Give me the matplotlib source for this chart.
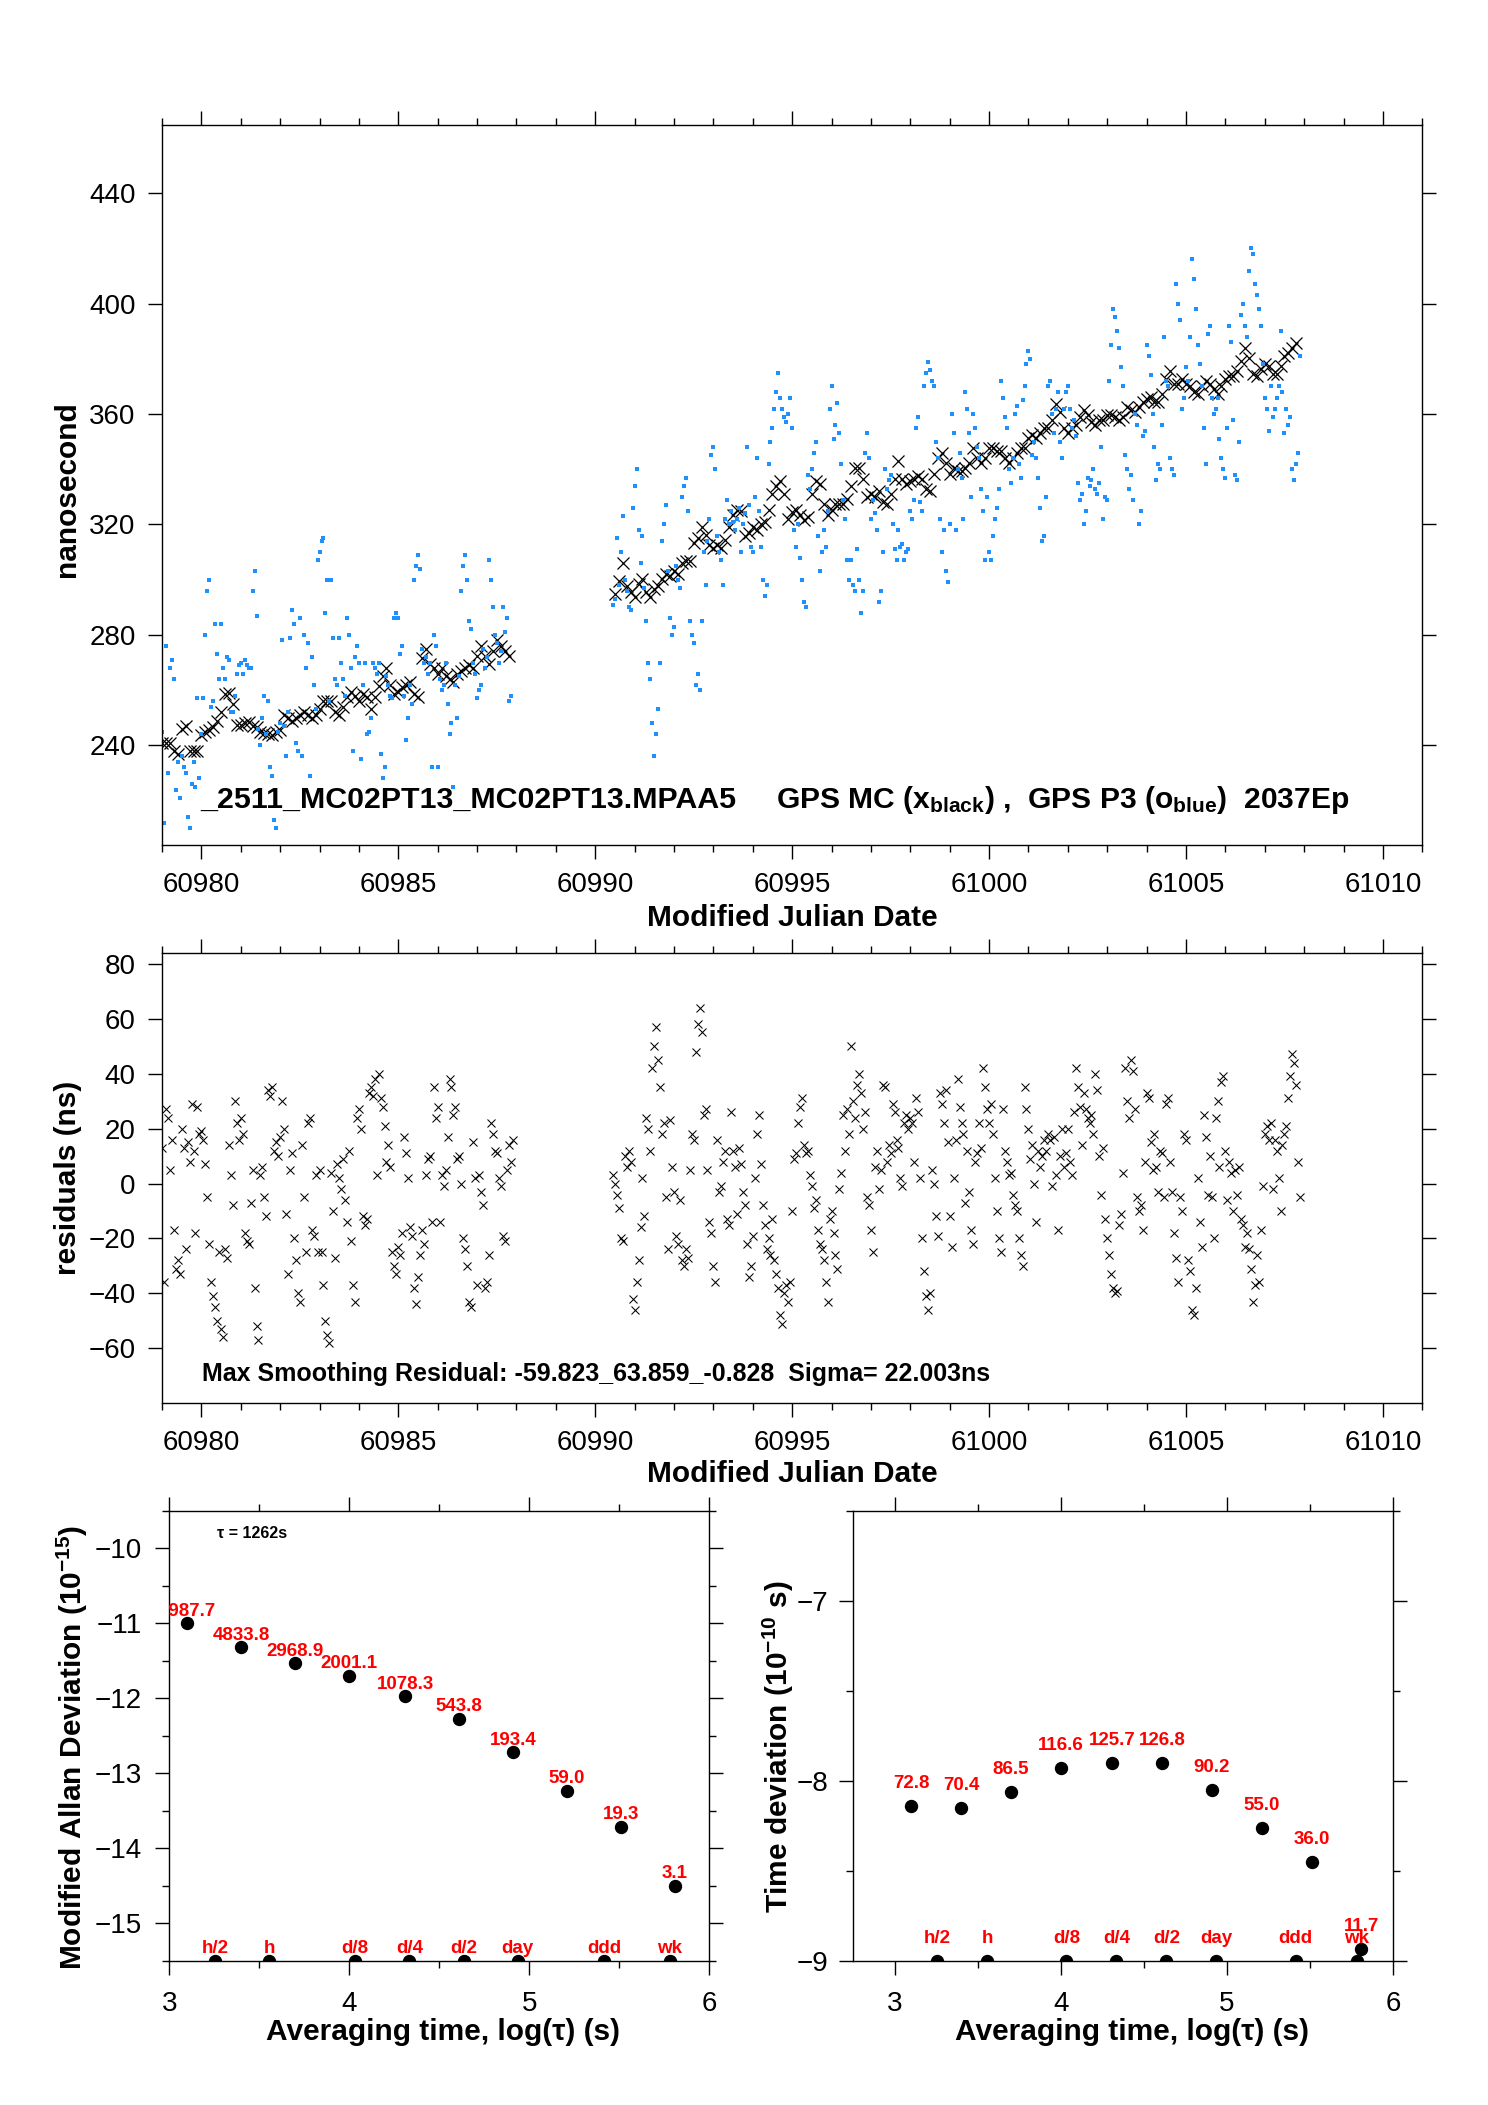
import numpy as np
import matplotlib
matplotlib.use('Agg')
import matplotlib.pyplot as plt
from matplotlib.ticker import MultipleLocator, FixedLocator

plt.rcParams['font.family'] = ['Liberation Sans', 'DejaVu Sans']
plt.rcParams['mathtext.fontset'] = 'custom'
plt.rcParams['mathtext.rm'] = 'Liberation Sans:bold'
plt.rcParams['mathtext.bf'] = 'Liberation Sans:bold'
plt.rcParams['mathtext.it'] = 'Liberation Sans:bold'
plt.rcParams['axes.unicode_minus'] = True

# ---------------- data: top panel ----------------
mjd_span_mc = [(60979.0, 60987.8), (60990.5, 61007.8)]
mjd_span_p3 = [(60979.0, 60987.85), (60990.45, 61007.90)]
mjd_span_res = [(60979.0, 60987.90), (60990.45, 61007.90)]

mc_seg1 = [241, 241, 241, 238, 237, 246, 247, 238, 238, 238,
           243.7, 245, 245.6, 246.5, 249, 252, 258.6, 259, 255, 247.5,
           247.5, 248, 248.4, 247, 246.5, 245, 244.6, 244, 243.7, 245,
           245.6, 251, 250, 249, 249.9, 251, 252, 251, 250, 251,
           253, 256, 256, 256, 252, 251, 254, 257.6, 259.5, 258,
           256, 258.6, 257.6, 253, 257.6, 261.4, 265, 267.9, 262, 258.6,
           259.5, 261, 262, 263, 258.6, 257.6, 271.5, 275, 269.6, 267.9,
           266, 267.9, 265, 264, 263, 266, 267, 267.9, 269, 267.9,
           272.5, 276, 272.5, 269.6, 274, 278, 276, 274, 272.5]

mc_seg2 = [294.8, 299.4, 306, 297.6, 295.7,
           293.9, 298.5, 300.4, 295.7, 293.9, 296.6, 297.6, 300.4, 302.2, 301.3,
           303.1, 302.2, 306, 306.9, 306.9, 313.4, 315.2, 319, 316.1, 312.4,
           311.5, 312.4, 311.5, 314.3, 319, 323.6, 325.4, 325, 316, 317,
           319, 318, 320, 320.8, 325.4, 331, 333.8, 335.6, 331, 322,
           324.5, 325.4, 323.6, 321.7, 322.6, 331, 335.6, 334.7, 327.3, 323.6,
           325.4, 327.3, 327.3, 327.3, 329.1, 333.8, 340.3, 340.3, 336.6, 330,
           331, 330, 332, 328.2, 327.3, 331, 336.6, 343, 336.6, 334.7,
           335.6, 336.6, 337.5, 336.6, 332.9, 332, 338.4, 344, 345.8, 342.1,
           338.4, 340.3, 339.4, 339.4, 340.3, 342.1, 347.7, 344, 342.1, 344,
           347.7, 347.7, 346.8, 346.8, 344, 342.1, 344, 345.8, 347.7, 347.7,
           351.4, 352.3, 351.4, 353.3, 355.1, 355.1, 357.9, 363.5, 360.7, 355.1,
           353.3, 355.1, 356, 358.8, 361.6, 359.8, 357, 356.1, 357.9, 357.9,
           359.8, 359.8, 358.8, 357.9, 358.8, 362.6, 361.6, 360.7, 362.6, 364.4,
           365.3, 366.3, 364.4, 364.4, 367.2, 372.8, 375.6, 370.9, 370.9, 372.8,
           370.9, 370, 368.1, 367.2, 370, 371.8, 370.9, 369, 367.2, 370,
           372.8, 373.7, 373.7, 375.6, 379.3, 383.9, 380.2, 374.6, 373.7, 376.5,
           378.3, 377.4, 374.6, 374.6, 377.4, 381.1, 382.1, 383.9, 385.8]

p3_seg1 = [245, 212, 276, 230, 268, 271, 264, 224, 234, 221,
           236, 232, 230, 214, 210, 226, 234, 225, 257, 228,
           244, 257, 280, 296, 300, 254, 256, 284, 273, 264,
           284, 268, 264, 272, 271, 252, 252, 258, 266, 269,
           270, 266, 271, 269, 268, 268, 296, 303, 287, 246,
           240, 250, 258, 244, 256, 232, 229, 213, 210, 245,
           248, 278, 247, 236, 252, 279, 289, 284, 241, 238,
           286, 236, 280, 268, 277, 229, 272, 262, 253, 307,
           310, 314, 315, 288, 300, 256, 300, 279, 264, 262,
           279, 270, 264, 258, 286, 280, 268, 238, 272, 276,
           270, 235, 262, 270, 244, 245, 250, 270, 268, 266,
           270, 237, 228, 232, 265, 262, 258, 257, 286, 288,
           286, 273, 276, 258, 242, 250, 262, 255, 300, 305,
           309, 304, 275, 270, 272, 266, 270, 232, 280, 276,
           232, 264, 260, 262, 270, 255, 244, 248, 225, 262,
           250, 265, 296, 305, 309, 300, 285, 282, 270, 266,
           257, 260, 262, 275, 268, 272, 307, 300, 290, 280,
           277, 270, 274, 290, 281, 286, 256, 258]

p3_seg2 = [291, 293, 315, 298, 310, 323, 300, 296, 290, 289,
           326, 334, 340, 318, 306, 316, 297, 285, 270, 264,
           248, 236, 244, 253, 270, 314, 320, 327, 303, 286,
           280, 283, 305, 300, 297, 330, 334, 337, 325, 285,
           280, 277, 262, 266, 260, 285, 310, 298, 314, 322,
           345, 348, 340, 316, 310, 307, 298, 322, 329, 320,
           325, 321, 318, 322, 326, 310, 320, 324, 348, 327,
           312, 310, 330, 344, 325, 312, 300, 294, 298, 342,
           350, 355, 362, 368, 375, 366, 362, 359, 357, 360,
           366, 355, 318, 312, 320, 308, 300, 292, 290, 338,
           333, 340, 346, 350, 316, 303, 310, 318, 312, 325,
           362, 370, 351, 356, 364, 353, 342, 329, 322, 307,
           300, 307, 298, 296, 311, 300, 288, 296, 346, 353,
           344, 322, 329, 324, 318, 292, 296, 310, 340, 333,
           336, 338, 320, 311, 307, 318, 312, 313, 307, 310,
           311, 325, 322, 329, 355, 359, 328, 325, 370, 375,
           379, 376, 372, 370, 350, 344, 322, 310, 318, 303,
           299, 320, 360, 353, 318, 340, 346, 337, 322, 368,
           362, 353, 330, 360, 355, 348, 344, 333, 325, 307,
           330, 310, 307, 316, 322, 326, 333, 372, 366, 359,
           355, 340, 335, 344, 360, 363, 342, 337, 365, 370,
           378, 383, 380, 345, 350, 344, 337, 326, 314, 316,
           330, 370, 372, 360, 353, 362, 368, 350, 344, 362,
           368, 370, 362, 355, 358, 352, 335, 329, 331, 320,
           325, 337, 334, 336, 340, 333, 331, 335, 348, 322,
           330, 329, 372, 385, 398, 395, 390, 384, 377, 370,
           345, 340, 333, 338, 329, 360, 356, 320, 325, 352,
           354, 385, 381, 374, 360, 348, 336, 342, 340, 356,
           388, 372, 370, 344, 340, 338, 407, 400, 394, 362,
           366, 377, 372, 388, 416, 409, 398, 385, 378, 370,
           355, 342, 389, 392, 366, 360, 362, 366, 351, 344,
           340, 337, 355, 392, 386, 358, 338, 336, 350, 396,
           400, 392, 388, 412, 420, 418, 407, 403, 398, 392,
           378, 366, 362, 354, 370, 359, 362, 366, 370, 390,
           368, 353, 362, 356, 359, 340, 336, 342, 346, 381]

# ---------------- data: residual panel ----------------
res_seg1 = [13, -36, 27, 24, 5, 16, -17, -31, -28, -33,
            20, 13, -24, 15, 8, 29, 12, -18, 28, 18,
            19, 16, 7, -5, -22, -36, -41, -45, -50, -25,
            -53, -56, -24, -27, 14, 3, -8, 30, 22, 16,
            24, 18, -18, -21, -22, -7, 5, -38, -52, -57,
            3, 6, -5, -12, 34, 32, 35, 12, 15, 10,
            17, 30, 20, -11, -33, 5, 11, -20, -28, -40,
            -43, 14, -5, -25, 22, 24, -17, -19, 3, -25,
            5, -25, -37, -50, -55, -58, 4, -10, -27, 7,
            2, -2, 9, -6, -14, 12, -21, -37, -43, 24,
            27, 20, -12, -15, -13, 33, 35, 32, 38, 3,
            40, 31, 28, 21, 8, 14, 6, -25, -30, -33,
            -23, -26, -18, 17, 11, 2, -16, -19, -38, -44,
            -34, -26, -17, -22, 3, 9, 10, -14, 35, 24,
            28, -14, 3, -1, 5, 17, 38, 35, 25, 28,
            9, 10, 0, -20, -24, -30, -43, -45, 15, 2,
            -37, 3, -3, -8, -38, -36, -26, 22, 18, 12,
            11, 2, -1, -19, -21, 5, 14, 8, 16]

res_seg2 = [3, 0, -4, -9, -20, -21, 10, 6, 12, 8,
            -42, -46, -36, -28, -16, 2, -12, 24, 20, 12,
            42, 50, 57, 45, 35, 18, 22, -5, -24, 23,
            6, -3, -19, -22, -6, -28, -30, -24, -27, 5,
            18, 16, 48, 58, 64, 55, 25, 27, 5, -14,
            -18, -30, -36, 16, -3, -1, 8, 12, -13, -15,
            26, 12, 6, -11, 13, 7, -3, -8, -22, -34,
            -30, -19, 2, 18, 25, 7, -8, -15, -24, -20,
            -26, -13, -28, -33, -38, -48, -51, -40, -37, -43,
            -36, -10, 9, 11, 22, 28, 31, 14, 11, 12,
            3, -1, -9, -6, -17, -22, -24, -28, -36, -43,
            -13, -10, -18, -26, -31, -2, 4, 25, 12, 27,
            18, 50, 30, 24, 36, 40, 33, 20, 26, -5,
            -8, -17, -25, 6, 12, -2, 5, 36, 35, 8,
            14, 11, 29, 26, 16, 13, 2, -1, 22, 25,
            20, 24, 22, 8, 31, 26, 2, -20, -32, -41,
            -46, -40, 5, 0, -12, -19, 33, 29, 22, 34,
            15, -12, -23, 2, 16, 38, 28, 22, 18, -7,
            12, -3, -17, -22, 8, 11, 22, 13, 42, 35,
            27, 22, 29, 18, 2, -10, -20, -25, 27, 12,
            8, 3, 4, -4, -8, -10, -20, -26, -30, 35,
            27, 20, 9, 14, 0, -14, 12, 6, 10, 16,
            12, 18, 16, -1, 17, 3, -17, 10, 20, 6,
            11, 20, 8, 3, 26, 42, 35, 28, 14, 33,
            27, 24, 22, 25, 18, 40, 34, 10, -4, 13,
            -13, -20, -26, -33, -38, -40, -39, -15, -11, 4,
            42, 30, 24, 45, 41, 27, -5, -10, -8, -17,
            8, 33, 31, 15, 5, 18, 6, -3, 12, 11,
            -5, 29, 31, 8, -3, -18, -27, -36, -5, -10,
            18, 16, -28, -32, -46, -48, -38, 2, -14, -23,
            25, 17, -4, 10, -5, -20, 24, 30, 6, 37,
            39, 12, -6, 8, 4, -10, 5, -4, 6, -13,
            -15, -23, -18, -24, -31, -43, -37, -26, -36, -17,
            -1, 18, 21, 16, 22, -2, 16, 12, 2, -10,
            14, 18, 21, 31, 39, 47, 44, 36, 8, -5]

# ---------------- data: stability panels ----------------
log_tau = [3.10, 3.40, 3.70, 4.00, 4.31, 4.61, 4.91, 5.21, 5.51, 5.81]
log_mdev = [-11.00, -11.32, -11.53, -11.70, -11.97, -12.27, -12.72, -13.23, -13.71, -14.50]
mdev_labels = ['9987.7', '4833.8', '2968.9', '2001.1', '1078.3', '543.8',
               '193.4', '59.0', '19.3', '3.1']
log_tdev = [-8.14, -8.15, -8.06, -7.93, -7.90, -7.90, -8.05, -8.26, -8.45, -8.935]
tdev_labels = ['72.8', '70.4', '86.5', '116.6', '125.7', '126.8', '90.2', '55.0', '36.0', '11.7']

ref_log_tau = [3.255, 3.556, 4.033, 4.334, 4.635, 4.936, 5.414, 5.782]
ref_labels = ['h/2', 'h', 'd/8', 'd/4', 'd/2', 'day', 'ddd', 'wk']
ref_level_mdev = [-15.5] * len(ref_log_tau)
ref_level_tdev = [-9.0] * len(ref_log_tau)

# ---------------- figure ----------------
W, H = 1488, 2105
fig = plt.figure(figsize=(W / 100, H / 100), dpi=100)

ax1 = fig.add_axes([0.10887, 0.59857, 0.84698, 0.34190])
ax2 = fig.add_axes([0.10887, 0.33335, 0.84698, 0.21378])
ax3 = fig.add_axes([0.11378, 0.06855, 0.36290, 0.21363])
ax4 = fig.add_axes([0.57345, 0.06855, 0.36270, 0.21363])

TICK_FS = 20
LABEL_FS = 21.5


def style(ax, pad_x=9.5, pad_y=9):
    for s in ax.spines.values():
        s.set_linewidth(1.0)
    ax.tick_params(which='both', direction='out', top=True, right=True,
                   labeltop=False, labelright=False, width=1.0,
                   labelsize=TICK_FS)
    ax.tick_params(which='major', length=10)
    ax.tick_params(which='minor', length=5)
    ax.tick_params(axis='x', which='both', pad=pad_x)
    ax.tick_params(axis='y', which='both', pad=pad_y)


def grid(span, n):
    return np.linspace(span[0], span[1], n)


t_mc = np.concatenate([grid(mjd_span_mc[0], len(mc_seg1)), grid(mjd_span_mc[1], len(mc_seg2))])
v_mc = np.concatenate([mc_seg1, mc_seg2])
t_p3 = np.concatenate([grid(mjd_span_p3[0], len(p3_seg1)), grid(mjd_span_p3[1], len(p3_seg2))])
v_p3 = np.concatenate([p3_seg1, p3_seg2])
t_res = np.concatenate([grid(mjd_span_res[0], len(res_seg1)), grid(mjd_span_res[1], len(res_seg2))])
v_res = np.concatenate([res_seg1, res_seg2])

# ---- top panel ----
ax1.plot(t_mc, v_mc, 'x', color='black', ms=8.5, mew=0.9, linestyle='none')
ax1.plot(t_p3, v_p3, 's', color='#1E90FF', ms=2.7, mew=0, linestyle='none')
ax1.set_xlim(60979.0, 61011.0)
ax1.set_ylim(203.9, 464.6)
ax1.xaxis.set_major_locator(MultipleLocator(5))
ax1.xaxis.set_minor_locator(MultipleLocator(1))
ax1.yaxis.set_major_locator(FixedLocator([240, 280, 320, 360, 400, 440]))
ax1.xaxis.set_major_formatter(plt.FuncFormatter(lambda v, p: '%d' % round(v)))
style(ax1)
ax1.set_ylabel('nanosecond', fontsize=LABEL_FS, fontweight='bold', va='center')
ax1.yaxis.set_label_coords(-0.0754, 0.495)
ax1.set_xlabel('Modified Julian Date', fontsize=LABEL_FS, fontweight='bold', va='top')
ax1.xaxis.set_label_coords(0.5, -59 / 719.7)
ax1.text(0.030, 0.0514, '_2511_MC02PT13_MC02PT13.MPAA5', transform=ax1.transAxes,
         fontsize=21.9, fontweight='bold', va='baseline', ha='left')
ax1.text(0.4875, 0.0514,
         r'GPS MC (x$_{\mathbf{black}}$) ,  GPS P3 (o$_{\mathbf{blue}}$)  2037Ep',
         transform=ax1.transAxes, fontsize=21.6, fontweight='bold',
         va='baseline', ha='left')

# ---- residual panel ----
ax2.plot(t_res, v_res, 'x', color='black', ms=5.5, mew=0.75, linestyle='none')
ax2.set_xlim(60979.0, 61011.0)
ax2.set_ylim(-80.0, 83.8)
ax2.xaxis.set_major_locator(MultipleLocator(5))
ax2.xaxis.set_minor_locator(MultipleLocator(1))
ax2.yaxis.set_major_locator(FixedLocator([-60, -40, -20, 0, 20, 40, 60, 80]))
ax2.xaxis.set_major_formatter(plt.FuncFormatter(lambda v, p: '%d' % round(v)))
style(ax2)
ax2.set_ylabel('residuals (ns)', fontsize=LABEL_FS, fontweight='bold', va='center')
ax2.yaxis.set_label_coords(-0.0746, 0.5)
ax2.set_xlabel('Modified Julian Date', fontsize=LABEL_FS, fontweight='bold', va='top')
ax2.xaxis.set_label_coords(0.5, -57 / 450.0)
ax2.text(0.032, 0.0496,
         'Max Smoothing Residual: -59.823_63.859_-0.828  Sigma= 22.003ns',
         transform=ax2.transAxes, fontsize=18, fontweight='bold',
         va='baseline', ha='left')

# ---- modified Allan deviation ----
ax3.plot(log_tau, log_mdev, 'o', color='black', ms=8.6, linestyle='none')
ax3.plot(ref_log_tau, ref_level_mdev, 'o', color='black', ms=8.6,
         linestyle='none', clip_on=True)
for x, y, lab in zip(log_tau, log_mdev, mdev_labels):
    ax3.text(x, y + 0.1, lab, color='red', ha='center', va='baseline',
             fontsize=13.5, fontweight='bold', clip_on=True)
for x, y, lab in zip(ref_log_tau, ref_level_mdev, ref_labels):
    ax3.text(x, y + 0.1, lab, color='red', ha='center', va='baseline',
             fontsize=13.5, fontweight='bold', clip_on=True)
ax3.set_xlim(3, 6)
ax3.set_ylim(-15.5, -9.5)
ax3.xaxis.set_major_locator(MultipleLocator(1))
ax3.xaxis.set_minor_locator(MultipleLocator(0.5))
ax3.yaxis.set_major_locator(MultipleLocator(1))
ax3.yaxis.set_minor_locator(MultipleLocator(0.5))
ax3.xaxis.set_major_formatter(plt.FuncFormatter(lambda v, p: '%d' % round(v)))
ax3.yaxis.set_major_formatter(plt.FuncFormatter(lambda v, p: '\u2212%d' % round(-v)))
style(ax3, pad_x=11.5, pad_y=10)
ax3.set_ylabel(r'Modified Allan Deviation (10$^{\mathbf{-15}}$)', fontsize=LABEL_FS,
               fontweight='bold', va='center')
ax3.yaxis.set_label_coords(-0.179, 0.475)
ax3.set_xlabel('Averaging time, log(\u03c4) (s)', fontsize=LABEL_FS,
               fontweight='bold', va='top')
ax3.xaxis.set_label_coords(0.507, -57 / 449.7)
ax3.text(0.088, 0.951, '\u03c4 = 1262s', transform=ax3.transAxes,
         fontsize=11.5, fontweight='bold', va='center', ha='left')

# ---- time deviation ----
ax4.plot(log_tau, log_tdev, 'o', color='black', ms=8.6, linestyle='none')
ax4.plot(ref_log_tau, ref_level_tdev, 'o', color='black', ms=8.6,
         linestyle='none', clip_on=True)
for x, y, lab in zip(log_tau, log_tdev, tdev_labels):
    ax4.text(x, y + 0.1, lab, color='red', ha='center', va='baseline',
             fontsize=13.5, fontweight='bold', clip_on=True)
for x, y, lab in zip(ref_log_tau, ref_level_tdev, ref_labels):
    ax4.text(x, y + 0.1, lab, color='red', ha='center', va='baseline',
             fontsize=13.5, fontweight='bold', clip_on=True)
ax4.set_xlim(2.75, 6)
ax4.set_ylim(-9, -6.5)
ax4.xaxis.set_major_locator(MultipleLocator(1))
ax4.xaxis.set_minor_locator(MultipleLocator(0.5))
ax4.yaxis.set_major_locator(MultipleLocator(1))
ax4.yaxis.set_minor_locator(MultipleLocator(0.5))
ax4.xaxis.set_major_formatter(plt.FuncFormatter(lambda v, p: '%d' % round(v)))
ax4.yaxis.set_major_formatter(plt.FuncFormatter(lambda v, p: '\u2212%d' % round(-v)))
style(ax4, pad_x=11.5, pad_y=8)
ax4.set_ylabel(r'Time deviation (10$^{\mathbf{-10}}$ s)', fontsize=LABEL_FS,
               fontweight='bold', va='center')
ax4.yaxis.set_label_coords(-0.1395, 0.475)
ax4.set_xlabel('Averaging time, log(\u03c4) (s)', fontsize=LABEL_FS,
               fontweight='bold', va='top')
ax4.xaxis.set_label_coords(0.516, -57 / 449.7)

fig.savefig('out.png', dpi=100)
